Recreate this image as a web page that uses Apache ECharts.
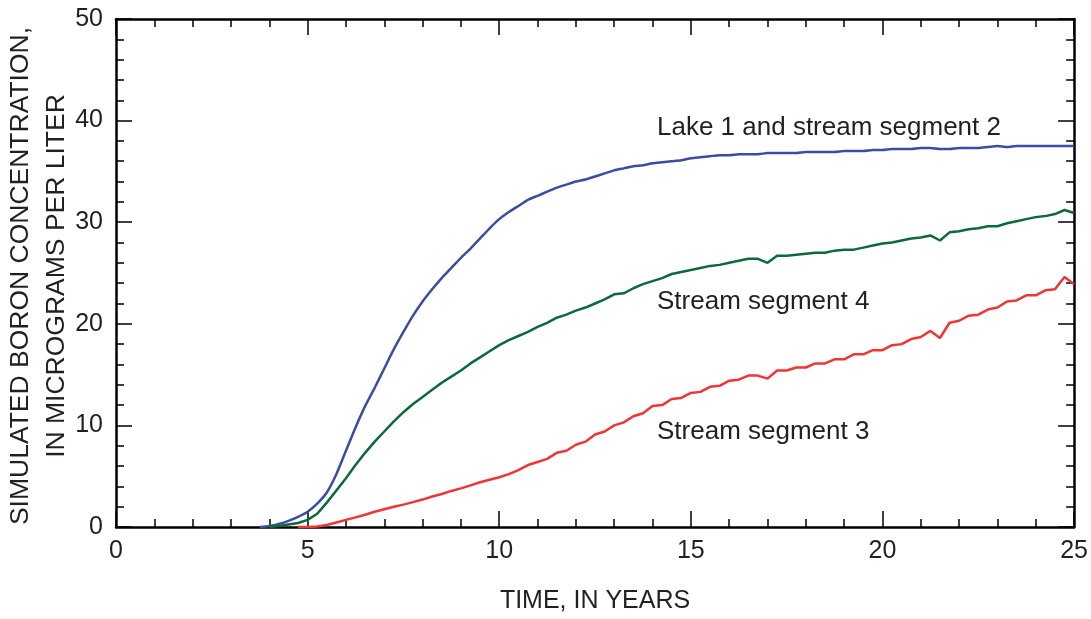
<!DOCTYPE html>
<html>
<head>
<meta charset="utf-8">
<script src="https://cdn.jsdelivr.net/npm/echarts@6/dist/echarts.min.js"></script>
<style>
html,body{margin:0;padding:0;background:#fff;}
#chart{width:1091px;height:619px;}
</style>
</head>
<body>
<div id="chart"></div>
<script>
// Time, in years
const years = [3.75,4,4.25,4.5,4.75,5,5.25,5.5,5.75,6,6.25,6.5,6.75,7,7.25,7.5,7.75,8,8.25,8.5,8.75,9,9.25,9.5,9.75,10,10.25,10.5,10.75,11,11.25,11.5,11.75,12,12.25,12.5,12.75,13,13.25,13.5,13.75,14,14.25,14.5,14.75,15,15.25,15.5,15.75,16,16.25,16.5,16.75,17,17.25,17.5,17.75,18,18.25,18.5,18.75,19,19.25,19.5,19.75,20,20.25,20.5,20.75,21,21.25,21.5,21.75,22,22.25,22.5,22.75,23,23.25,23.5,23.75,24,24.25,24.5,24.75,25];

// Lake 1 and stream segment 2
const lake1 = [0,0.1,0.3,0.6,1.0,1.5,2.3,3.4,5.2,7.5,
  9.8,11.9,13.7,15.6,17.5,19.2,20.8,22.2,23.4,24.5,
  25.5,26.5,27.4,28.4,29.4,30.3,31.0,31.6,32.2,32.6,
  33.0,33.4,33.7,34.0,34.2,34.5,34.8,35.1,35.3,35.5,
  35.6,35.8,35.9,36.0,36.1,36.3,36.4,36.5,36.6,36.6,
  36.7,36.7,36.7,36.8,36.8,36.8,36.8,36.9,36.9,36.9,
  36.9,37.0,37.0,37.0,37.1,37.1,37.2,37.2,37.2,37.3,
  37.3,37.2,37.2,37.3,37.3,37.3,37.4,37.5,37.4,37.5,
  37.5,37.5,37.5,37.5,37.5,37.5];

// Stream segment 4
const seg4 = [null,0,0.1,0.25,0.4,0.7,1.3,2.4,3.6,4.8,
  6.1,7.3,8.4,9.4,10.4,11.3,12.1,12.8,13.5,14.2,
  14.8,15.4,16.1,16.7,17.3,17.9,18.4,18.8,19.2,19.7,
  20.1,20.6,20.9,21.3,21.6,22.0,22.4,22.9,23.0,23.5,
  23.9,24.2,24.5,24.9,25.1,25.3,25.5,25.7,25.8,26.0,
  26.2,26.4,26.4,26.0,26.7,26.7,26.8,26.9,27.0,27.0,
  27.2,27.3,27.3,27.5,27.7,27.9,28.0,28.2,28.4,28.5,
  28.7,28.2,29.0,29.1,29.3,29.4,29.6,29.6,29.9,30.1,
  30.3,30.5,30.6,30.8,31.2,30.9];

// Stream segment 3
const seg3 = [null,null,null,null,0,0,0.05,0.2,0.45,0.7,
  0.95,1.2,1.5,1.75,2.0,2.2,2.45,2.7,3.0,3.25,
  3.55,3.8,4.1,4.4,4.65,4.9,5.2,5.6,6.1,6.4,
  6.7,7.3,7.5,8.1,8.4,9.1,9.4,10.0,10.3,10.9,
  11.2,11.9,12.0,12.6,12.7,13.2,13.3,13.8,13.9,14.4,
  14.5,14.9,14.9,14.6,15.4,15.4,15.7,15.7,16.1,16.1,
  16.5,16.5,17.0,17.0,17.4,17.4,17.9,18.0,18.5,18.7,
  19.3,18.6,20.1,20.3,20.8,20.9,21.4,21.6,22.2,22.3,
  22.8,22.8,23.3,23.4,24.6,23.9];

const xTicks = [0,5,10,15,20,25];
const yTicks = [0,10,20,30,40,50];

function pairs(vals){
  const out = [];
  years.forEach((x,i)=>{ if(vals[i]!==null) out.push([x, vals[i]]); });
  return out;
}

const FONT = '"Liberation Sans", Arial, Helvetica, sans-serif';
const TXT = '#231f20';

function xAx(pos, showLabel){
  return {
    type:'value', min:xTicks[0], max:xTicks[xTicks.length-1], interval:5, position:pos,
    axisLine:{show:true, onZero:false, lineStyle:{color:'#000', width:2.5}},
    axisTick:{show:true, inside:true, length:16, lineStyle:{color:'#000', width:1.5}},
    minorTick:{show:true, splitNumber:5, length:8, lineStyle:{color:'#000', width:1.5}},
    splitLine:{show:false},
    axisLabel:{show:showLabel, fontSize:25, color:TXT, margin:12, fontFamily:FONT},
    name: showLabel ? 'TIME, IN YEARS' : '',
    nameLocation:'middle', nameGap:62,
    nameTextStyle:{fontSize:25, color:TXT, fontFamily:FONT}
  };
}
function yAx(pos, showLabel){
  return {
    type:'value', min:yTicks[0], max:yTicks[yTicks.length-1], interval:10, position:pos,
    axisLine:{show:true, onZero:false, lineStyle:{color:'#000', width:2.5}},
    axisTick:{show:true, inside:true, length:16, lineStyle:{color:'#000', width:1.5}},
    minorTick:{show:true, splitNumber:5, length:8, lineStyle:{color:'#000', width:1.5}},
    splitLine:{show:false},
    axisLabel:{show:showLabel, fontSize:25, color:TXT, margin:13, fontFamily:FONT}
  };
}

const chart = echarts.init(document.getElementById('chart'), null, {renderer:'canvas'});
chart.setOption({
  animation:false,
  backgroundColor:'#fff',
  grid:{left:116, right:16, top:19, bottom:88, containLabel:false},
  xAxis:[xAx('bottom', true), xAx('top', false)],
  yAxis:[yAx('left', true), yAx('right', false)],
  graphic:[
    {type:'text', x:39, y:276, rotation:Math.PI/2,
     style:{text:'SIMULATED BORON CONCENTRATION,\nIN MICROGRAMS PER LITER', align:'center', verticalAlign:'middle',
            fontSize:26.5, lineHeight:36, fill:TXT, fontFamily:FONT}},
    {type:'text', x:657, y:128, style:{text:'Lake 1 and stream segment 2', fontSize:26, fill:TXT, fontFamily:FONT, verticalAlign:'middle'}},
    {type:'text', x:657, y:302, style:{text:'Stream segment 4', fontSize:26, fill:TXT, fontFamily:FONT, verticalAlign:'middle'}},
    {type:'text', x:657, y:432, style:{text:'Stream segment 3', fontSize:26, fill:TXT, fontFamily:FONT, verticalAlign:'middle'}}
  ],
  series:[
    {name:'Lake 1 and stream segment 2', type:'line', xAxisIndex:0, yAxisIndex:0, data:pairs(lake1),
     showSymbol:false, smooth:0.2, lineStyle:{color:'#3a4da3', width:2.5}, z:3},
    {name:'Stream segment 4', type:'line', xAxisIndex:0, yAxisIndex:0, data:pairs(seg4),
     showSymbol:false, lineStyle:{color:'#0b6a3a', width:2.5}, z:3},
    {name:'Stream segment 3', type:'line', xAxisIndex:0, yAxisIndex:0, data:pairs(seg3),
     showSymbol:false, lineStyle:{color:'#ef3535', width:2.5}, z:3}
  ]
});
</script>
</body>
</html>
